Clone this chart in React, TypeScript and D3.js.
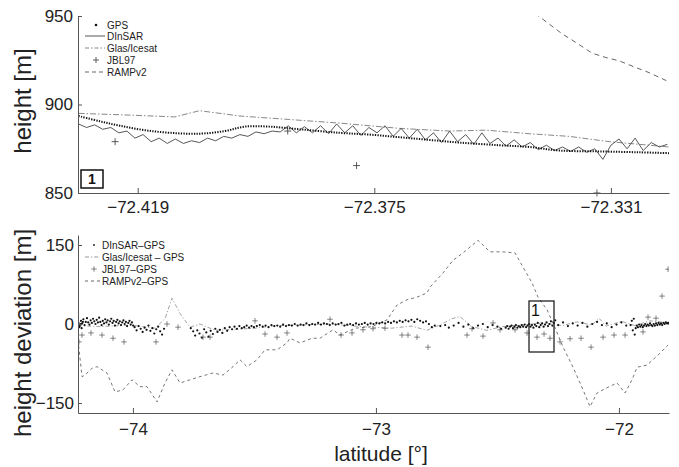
import React, { useEffect, useRef } from 'react';
import * as d3 from 'd3';

const W = 679;
const H = 467;

// ---- top panel: heights along the profile (zoom box 1) ----
const topXTicks = [-72.419, -72.375, -72.331];
const topYTicks = [850, 900, 950];

const gpsLat = [-72.43, -72.426, -72.4223, -72.4177, -72.413, -72.4075, -72.4028, -72.3991, -72.3945, -72.3889, -72.3815,
  -72.3759, -72.3703, -72.3648, -72.3592, -72.3518, -72.3462, -72.3406, -72.3332, -72.3258, -72.3202];
const gpsHeight = [893.5, 890.5, 888, 885.5, 884, 883.5, 885, 887.5, 887.5, 886, 884,
  883, 881.5, 880, 878.5, 877, 876, 874, 873.5, 873, 872.5];

const dinsarLat = [
  -72.43, -72.4285, -72.427, -72.4255, -72.424, -72.4225, -72.421, -72.4195, -72.418, -72.4165,
  -72.415, -72.4135, -72.412, -72.4105, -72.409, -72.4075, -72.406, -72.4045, -72.403, -72.4015,
  -72.4, -72.3985, -72.397, -72.3955, -72.394, -72.3925, -72.391, -72.3895, -72.388, -72.3865,
  -72.385, -72.3835, -72.382, -72.3805, -72.379, -72.3775, -72.376, -72.3745, -72.373, -72.3715,
  -72.37, -72.3685, -72.367, -72.3655, -72.364, -72.3625, -72.361, -72.3595, -72.358, -72.3565,
  -72.355, -72.3535, -72.352, -72.3505, -72.349, -72.3475, -72.346, -72.3445, -72.343, -72.3415,
  -72.34, -72.3385, -72.337, -72.3355, -72.334, -72.3325, -72.331, -72.3295, -72.328, -72.3265,
  -72.325, -72.3235, -72.322, -72.3205];
const dinsarHeight = [
  889, 887, 888.5, 886, 887, 884, 885, 881, 883, 879,
  881, 878, 880.5, 878, 879.5, 878.5, 881, 879.5, 882, 881,
  883, 882, 884.5, 883.5, 885, 884.5, 888, 884, 887.5, 884,
  888, 883.5, 889, 884, 888, 882.5, 887, 884, 888, 882,
  886.5, 881, 886, 880, 884, 878.5, 885, 879, 883, 877.5,
  884, 878, 881, 876.5, 880, 876, 878.5, 874.5, 877, 874,
  876, 873.5, 876, 873, 875, 869, 877, 880.5, 875, 881,
  874, 878.5, 876, 877.5];

const glasLat = [-72.43, -72.4204, -72.4121, -72.4075, -72.4, -72.3907, -72.3815, -72.3703, -72.361, -72.3542,
  -72.3462, -72.3388, -72.3313, -72.3202];
const glasHeight = [895, 894, 893, 896.5, 893.5, 891.5, 889.5, 886.5, 885, 885.5, 883.5, 882, 879, 876];

const jblLat = [-72.4232, -72.3911, -72.3783, -72.3336];
const jblHeight = [879, 885, 865.5, 850];

const rampLat = [-72.3451, -72.3425, -72.3401, -72.3375, -72.3345, -72.3319, -72.3295, -72.3263, -72.3239, -72.3207];
const rampHeight = [951.5, 945.5, 940, 935, 929, 926.5, 924.7, 920.8, 918, 913.5];

// ---- bottom panel: deviations from GPS ----
const botXTicks = [-74, -73, -72];
const botYTicks = [-150, 0, 150];

const rampDevLat = [-74.226, -74.2095, -74.1972, -74.1684, -74.1478, -74.1067, -74.0737, -74.0408, -74.0038, -73.9709,
  -73.942, -73.9009, -73.868, -73.8392, -73.8062, -73.7651, -73.724, -73.6704, -73.6293, -73.5881,
  -73.5593, -73.5305, -73.4893, -73.4564, -73.4071, -73.366, -73.3536, -73.3124, -73.263, -73.2301,
  -73.1766, -73.1478, -73.0861, -73.0161, -72.9544, -72.9132, -72.8721, -72.8309, -72.7898, -72.7774,
  -72.7239, -72.6828, -72.6416, -72.5799, -72.5305, -72.477, -72.4276, -72.3947, -72.3576, -72.3329,
  -72.2959, -72.2712, -72.23, -72.1889, -72.1477, -72.1189, -72.0901, -72.049, -72.0078, -71.9749,
  -71.9461, -71.9255, -71.8844, -71.8391, -71.7979];
const rampDev = [-30, -100, -97, -84, -81, -93, -129, -125, -106, -119,
  -119, -148, -112, -87, -112, -106, -100, -93, -97, -81,
  -68, -81, -68, -49, -49, -36, -27, -36, -27, -27,
  -11, -21, -8, -5, 8, 36, 46, 51, 59, 70,
  97, 121, 135, 159, 137, 137, 135, 108, 78, 51,
  27, 2, -44, -82, -125, -157, -131, -121, -112, -131,
  -106, -82, -78, -59, -40];

const glasDevLat = [-74.226, -74.1355, -74.012, -73.9091, -73.868, -73.8392, -73.8062, -73.7651, -73.724, -73.6622,
  -73.5799, -73.4975, -73.4152, -73.3124, -73.1889, -73.0605, -72.9366, -72.8523, -72.7906, -72.7284,
  -72.6872, -72.6542, -72.6049, -72.5436, -72.4794, -72.3984, -72.3148, -72.2337, -72.1724, -72.1107,
  -72.0819, -72.0531, -71.9889, -71.935, -71.8722, -71.7917];
const glasDev = [-3, -5, -2, -8, 10, 49, 20, -6, 0, -12,
  -10, -8, -3, -2, 0, -5, -8, -4, -12, 0,
  10, 14, -5, -12, -5, -2, 2, -3, 4, -2,
  11, -4, 5, -3, 6, 2];

const jblDevLat = [-74.222, -74.2095, -74.1725, -74.1272, -74.082, -74.0367, -73.905, -73.8598, -73.8145, -73.7116,
  -73.6828, -73.4976, -73.4564, -73.4071, -73.366, -73.189, -73.1437, -73.0984, -73.0532, -73.012,
  -72.9627, -72.8927, -72.868, -72.8309, -72.7857, -72.6252, -72.6046, -72.5593, -72.5182, -72.4894,
  -72.4276, -72.3782, -72.3371, -72.3082, -72.2836, -72.2424, -72.2012, -72.156, -72.1148, -72.0654,
  -72.0202, -71.9749, -71.9009, -71.8803, -71.8474, -71.8227, -71.7979];
const jblDev = [-34, -21, -17, -21, -27, -34, -34, 0, -6, -25,
  -25, 6, -19, -25, -17, 9, -21, -17, -11, -9,
  -8, -21, -21, -25, -44, -21, -9, -23, 2, -11,
  -11, -17, -25, -19, -27, -34, -28, -27, -44, -25,
  -21, -21, -15, 13, 11, 53, 104];

// DInSAR - GPS scatter: [latitude, deviation]
const dinsarDev: [number, number][] = [
  [-74.224, 2], [-74.221, -6], [-74.219, -4], [-74.216, 0], [-74.214, 6], [-74.211, -8], [-74.209, 1], [-74.206, 4],
  [-74.204, 9], [-74.199, -2], [-74.194, 4], [-74.189, 11], [-74.184, 3], [-74.179, -1], [-74.174, 7], [-74.169, 2],
  [-74.164, 10], [-74.159, 5], [-74.154, 0], [-74.149, 8], [-74.144, 3], [-74.139, 12], [-74.134, 4], [-74.129, -2],
  [-74.124, 6], [-74.119, 1], [-74.114, 9], [-74.109, 3], [-74.104, 7], [-74.099, -1], [-74.094, 5], [-74.089, 10],
  [-74.084, 2], [-74.079, 6], [-74.074, -3], [-74.069, 4], [-74.064, 8], [-74.059, 1], [-74.054, 5], [-74.049, -2],
  [-74.044, 3], [-74.039, 7], [-74.034, 0], [-74.029, 4], [-74.024, -4], [-74.019, 2], [-74.014, 6], [-74.009, -1],
  [-74.004, 3], [-73.999, -3],
  [-73.993, -6], [-73.985, -12], [-73.977, -4], [-73.968, -9], [-73.96, -15], [-73.952, -7], [-73.944, -11], [-73.936, -3],
  [-73.928, -13], [-73.92, -8], [-73.912, -18], [-73.904, -10], [-73.896, -5], [-73.888, -14], [-73.88, -20], [-73.872, -9],
  [-73.762, -8], [-73.752, -14], [-73.744, -22], [-73.735, -12], [-73.726, -18], [-73.716, -26], [-73.707, -10], [-73.698, -16],
  [-73.689, -24], [-73.68, -13], [-73.671, -19], [-73.661, -9], [-73.652, -15], [-73.642, -11], [-73.632, -17], [-73.622, -8],
  [-73.612, -13], [-73.602, -6], [-73.592, -10], [-73.582, -5], [-73.572, -9], [-73.562, -4], [-73.552, -8], [-73.542, -6],
  [-73.532, -3], [-73.522, -7], [-73.512, -4], [-73.502, -6],
  [-73.49, -4], [-73.478, -2], [-73.466, -5], [-73.454, -3], [-73.442, -6], [-73.43, -2], [-73.418, -4], [-73.406, -3],
  [-73.394, -5], [-73.382, -1], [-73.37, -4], [-73.358, -2], [-73.346, -3], [-73.334, 0], [-73.322, -3], [-73.31, -1],
  [-73.298, -2], [-73.286, 1], [-73.274, -2], [-73.262, 0], [-73.25, -1], [-73.238, 2], [-73.226, -1], [-73.214, 1],
  [-73.202, 0], [-73.19, -2], [-73.178, 1], [-73.166, -1], [-73.154, 0], [-73.142, 2], [-73.13, -3], [-73.118, -1],
  [-73.106, 0], [-73.094, -2], [-73.082, 1], [-73.07, -1], [-73.058, 0], [-73.046, 2], [-73.034, -1], [-73.022, 1],
  [-73.01, 0], [-72.998, 2], [-72.986, 1], [-72.974, 3], [-72.962, 1], [-72.95, 4], [-72.938, 2], [-72.926, 5],
  [-72.914, 3], [-72.902, 6], [-72.89, 4], [-72.878, 7], [-72.866, 5], [-72.854, 8], [-72.842, 4], [-72.83, 9],
  [-72.818, 6], [-72.806, 3], [-72.794, 5], [-72.782, 0], [-72.77, -6], [-72.758, -3],
  [-72.735, -4], [-72.715, -2], [-72.7, -7], [-72.68, -3], [-72.66, 2], [-72.64, -5], [-72.62, -1], [-72.6, -8],
  [-72.58, -3], [-72.56, 0], [-72.54, -6], [-72.52, -2], [-72.5, -5], [-72.485, -9],
  [-72.466, -7], [-72.46, -4], [-72.454, -9], [-72.448, -5], [-72.442, -3], [-72.436, -8], [-72.43, -5], [-72.424, -2],
  [-72.418, -7], [-72.412, -4], [-72.406, -6], [-72.4, -2], [-72.394, -5], [-72.388, -1], [-72.382, -6], [-72.376, -3],
  [-72.37, 0], [-72.364, -5], [-72.358, -2], [-72.352, -7], [-72.346, -1], [-72.34, -4], [-72.334, 2], [-72.328, -6],
  [-72.322, -2], [-72.316, 1], [-72.31, -5], [-72.304, -1], [-72.298, 3], [-72.292, -4], [-72.286, 0], [-72.28, 5],
  [-72.274, -3], [-72.268, 2], [-72.262, 7],
  [-72.25, -2], [-72.23, 3], [-72.21, -4], [-72.19, 1], [-72.17, -3], [-72.15, 2], [-72.13, -5], [-72.11, 0],
  [-72.09, 4], [-72.07, -2], [-72.05, 1], [-72.03, -6], [-72.01, -1], [-71.99, 3], [-71.97, -3],
  [-71.952, -2], [-71.947, 6], [-71.943, -12], [-71.939, 10], [-71.935, -20], [-71.931, -8], [-71.927, -3], [-71.922, -6],
  [-71.917, -1], [-71.912, -5], [-71.907, -2], [-71.902, -6], [-71.897, -3], [-71.892, 0], [-71.887, -4], [-71.882, -1],
  [-71.877, -3], [-71.872, 1], [-71.867, -2], [-71.862, -4], [-71.857, 0], [-71.852, -3], [-71.847, 1], [-71.842, -2],
  [-71.837, 2], [-71.832, -1], [-71.827, 1], [-71.822, -2], [-71.817, 2], [-71.812, 0], [-71.807, 3], [-71.802, 1],
  [-71.797, 2], [-71.792, 0]];

const topLegend = ['GPS', 'DInSAR', 'Glas/Icesat', 'JBL97', 'RAMPv2'];
const botLegend = ['DInSAR–GPS', 'Glas/Icesat – GPS', 'JBL97–GPS', 'RAMPv2–GPS'];

const FONT = '"Liberation Sans", Arial, Helvetica, sans-serif';
const DASH_DOT = '6 2 1.5 2';
const PLUS = 'M-3.5,0H3.5M0,-3.5V3.5';

const App = () => {
  const svgRef = useRef<SVGSVGElement>(null);

  useEffect(() => {
    const svg = d3.select(svgRef.current);
    svg.selectAll('*').remove();
    svg.attr('width', W).attr('height', H).style('font-family', FONT);
    svg.append('rect').attr('width', W).attr('height', H).attr('fill', '#fff');

    const left = 78;
    const right = 669;
    const defs = svg.append('defs');

    const styleAxis = (g: any, size: number) => {
      g.select('.domain').attr('stroke', '#555').attr('stroke-width', 1);
      g.selectAll('.tick line').attr('stroke', '#555');
      g.selectAll('.tick text').attr('fill', '#222').style('font-size', `${size}px`).style('font-family', FONT);
    };

    // ================= top panel =================
    const xT = d3.scaleLinear().domain([-72.4301, -72.3202]).range([left, right]);
    const yT = d3.scaleLinear().domain([850, 950]).range([193, 16]);

    defs.append('clipPath').attr('id', 'clipTop')
      .append('rect').attr('x', left).attr('y', 16).attr('width', right - left).attr('height', 177);

    const top = svg.append('g');
    const topPlot = top.append('g').attr('clip-path', 'url(#clipTop)');

    const lineTop = (lat: number[], v: number[]) =>
      d3.line<number>().x((_, i) => xT(lat[i])).y((d) => yT(d))(v);

    topPlot.append('path').attr('d', lineTop(glasLat, glasHeight)).attr('fill', 'none')
      .attr('stroke', '#888').attr('stroke-width', 1).attr('stroke-dasharray', DASH_DOT);
    topPlot.append('path').attr('d', lineTop(rampLat, rampHeight)).attr('fill', 'none')
      .attr('stroke', '#666').attr('stroke-width', 1).attr('stroke-dasharray', '5 4');
    topPlot.append('path').attr('d', lineTop(dinsarLat, dinsarHeight)).attr('fill', 'none')
      .attr('stroke', '#444').attr('stroke-width', 0.9);
    topPlot.append('path')
      .attr('d', d3.line<number>().x((_, i) => xT(gpsLat[i])).y((d) => yT(d)).curve(d3.curveCatmullRom)(gpsHeight))
      .attr('fill', 'none').attr('stroke', '#111').attr('stroke-width', 2).attr('stroke-dasharray', '1.3 1.3');
    top.selectAll('.jbl').data(jblHeight).enter().append('path')
      .attr('d', PLUS).attr('transform', (d, i) => `translate(${xT(jblLat[i])},${yT(d)})`)
      .attr('stroke', '#333').attr('stroke-width', 0.8);

    const topXAxis = top.append('g').attr('transform', 'translate(0,193)')
      .call(d3.axisBottom(xT).tickValues(topXTicks).tickSizeInner(-5).tickSizeOuter(0).tickPadding(8)
        .tickFormat(d3.format('.3f') as any));
    styleAxis(topXAxis, 17);
    const topYAxis = top.append('g').attr('transform', `translate(${left},0)`)
      .call(d3.axisLeft(yT).tickValues(topYTicks).tickSizeInner(-4).tickSizeOuter(0).tickPadding(5)
        .tickFormat(d3.format('d') as any));
    styleAxis(topYAxis, 17);

    top.append('text').attr('transform', 'translate(31,101) rotate(-90)').attr('text-anchor', 'middle')
      .style('font-size', '24px').attr('fill', '#222').text('height [m]');

    // legend
    const tLeg = top.append('g').style('font-size', '10px');
    const tRows = [25, 36, 48, 60, 72];
    topLegend.forEach((name, i) => {
      tLeg.append('text').attr('x', 107).attr('y', tRows[i]).attr('dy', '0.35em').attr('fill', '#222').text(name);
    });
    tLeg.append('circle').attr('cx', 96).attr('cy', tRows[0]).attr('r', 1.3).attr('fill', '#111');
    tLeg.append('line').attr('x1', 85).attr('x2', 105).attr('y1', tRows[1]).attr('y2', tRows[1])
      .attr('stroke', '#444').attr('stroke-width', 0.9);
    tLeg.append('line').attr('x1', 85).attr('x2', 105).attr('y1', tRows[2]).attr('y2', tRows[2])
      .attr('stroke', '#888').attr('stroke-dasharray', '4 2 1.5 2');
    tLeg.append('path').attr('d', PLUS).attr('transform', `translate(96,${tRows[3]}) scale(0.85)`)
      .attr('stroke', '#333').attr('stroke-width', 0.9);
    tLeg.append('line').attr('x1', 85).attr('x2', 105).attr('y1', tRows[4]).attr('y2', tRows[4])
      .attr('stroke', '#666').attr('stroke-dasharray', '4 3');

    top.append('rect').attr('x', 81).attr('y', 170).attr('width', 22).attr('height', 18)
      .attr('fill', 'none').attr('stroke', '#111').attr('stroke-width', 1.5);
    top.append('text').attr('x', 92).attr('y', 184).attr('text-anchor', 'middle')
      .style('font-size', '14px').style('font-weight', 'bold').attr('fill', '#111').text('1');

    // ================= bottom panel =================
    const xB = d3.scaleLinear().domain([-74.226, -71.794]).range([left, right]);
    const yB = d3.scaleLinear().domain([-169, 169]).range([413, 235]);

    defs.append('clipPath').attr('id', 'clipBot')
      .append('rect').attr('x', left).attr('y', 235).attr('width', right - left).attr('height', 178);

    const bot = svg.append('g');
    const botPlot = bot.append('g').attr('clip-path', 'url(#clipBot)');

    const lineBot = (lat: number[], v: number[]) =>
      d3.line<number>().x((_, i) => xB(lat[i])).y((d) => yB(d))(v);

    botPlot.append('path').attr('d', lineBot(rampDevLat, rampDev)).attr('fill', 'none')
      .attr('stroke', '#666').attr('stroke-width', 0.9).attr('stroke-dasharray', '3 3');
    botPlot.append('path').attr('d', lineBot(glasDevLat, glasDev)).attr('fill', 'none')
      .attr('stroke', '#999').attr('stroke-width', 0.9).attr('stroke-dasharray', '4 2 1.2 2');
    botPlot.selectAll('.dd').data(dinsarDev).enter().append('circle')
      .attr('cx', (d) => xB(d[0])).attr('cy', (d) => yB(d[1])).attr('r', 1.1).attr('fill', '#111');
    botPlot.selectAll('.jd').data(jblDev).enter().append('path')
      .attr('d', PLUS).attr('transform', (d, i) => `translate(${xB(jblDevLat[i])},${yB(d)}) scale(0.8)`)
      .attr('stroke', '#444').attr('stroke-width', 0.8);

    const botXAxis = bot.append('g').attr('transform', 'translate(0,413)')
      .call(d3.axisBottom(xB).tickValues(botXTicks).tickSizeInner(-5).tickSizeOuter(0).tickPadding(10)
        .tickFormat(d3.format('d') as any));
    styleAxis(botXAxis, 17);
    const botYAxis = bot.append('g').attr('transform', `translate(${left},0)`)
      .call(d3.axisLeft(yB).tickValues(botYTicks).tickSizeInner(-4).tickSizeOuter(0).tickPadding(4)
        .tickFormat(d3.format('d') as any));
    styleAxis(botYAxis, 17);

    bot.append('text').attr('transform', 'translate(31,333) rotate(-90)').attr('text-anchor', 'middle')
      .style('font-size', '24px').attr('fill', '#222').text('height deviation [m]');
    bot.append('text').attr('x', 381).attr('y', 461).attr('text-anchor', 'middle')
      .style('font-size', '21px').attr('fill', '#222').text('latitude [°]');

    const bLeg = bot.append('g').style('font-size', '10px');
    const bRows = [245, 257, 269, 281];
    botLegend.forEach((name, i) => {
      bLeg.append('text').attr('x', 102).attr('y', bRows[i]).attr('dy', '0.35em').attr('fill', '#222').text(name);
    });
    bLeg.append('circle').attr('cx', 94).attr('cy', bRows[0]).attr('r', 0.9).attr('fill', '#111');
    bLeg.append('line').attr('x1', 85).attr('x2', 100).attr('y1', bRows[1]).attr('y2', bRows[1])
      .attr('stroke', '#999').attr('stroke-dasharray', '4 2 1.2 2');
    bLeg.append('path').attr('d', PLUS).attr('transform', `translate(94,${bRows[2]}) scale(0.8)`)
      .attr('stroke', '#444').attr('stroke-width', 0.8);
    bLeg.append('line').attr('x1', 85).attr('x2', 100).attr('y1', bRows[3]).attr('y2', bRows[3])
      .attr('stroke', '#666').attr('stroke-dasharray', '3 3');

    bot.append('rect').attr('x', 529).attr('y', 301).attr('width', 25).attr('height', 51)
      .attr('fill', 'none').attr('stroke', '#222').attr('stroke-width', 1.3);
    bot.append('text').attr('x', 531).attr('y', 316)
      .style('font-size', '16px').attr('fill', '#111').text('1');
  }, []);

  return (
    <div style={{ position: 'absolute', left: 0, top: 0 }}>
      <svg ref={svgRef}></svg>
    </div>
  );
};

export default App;
